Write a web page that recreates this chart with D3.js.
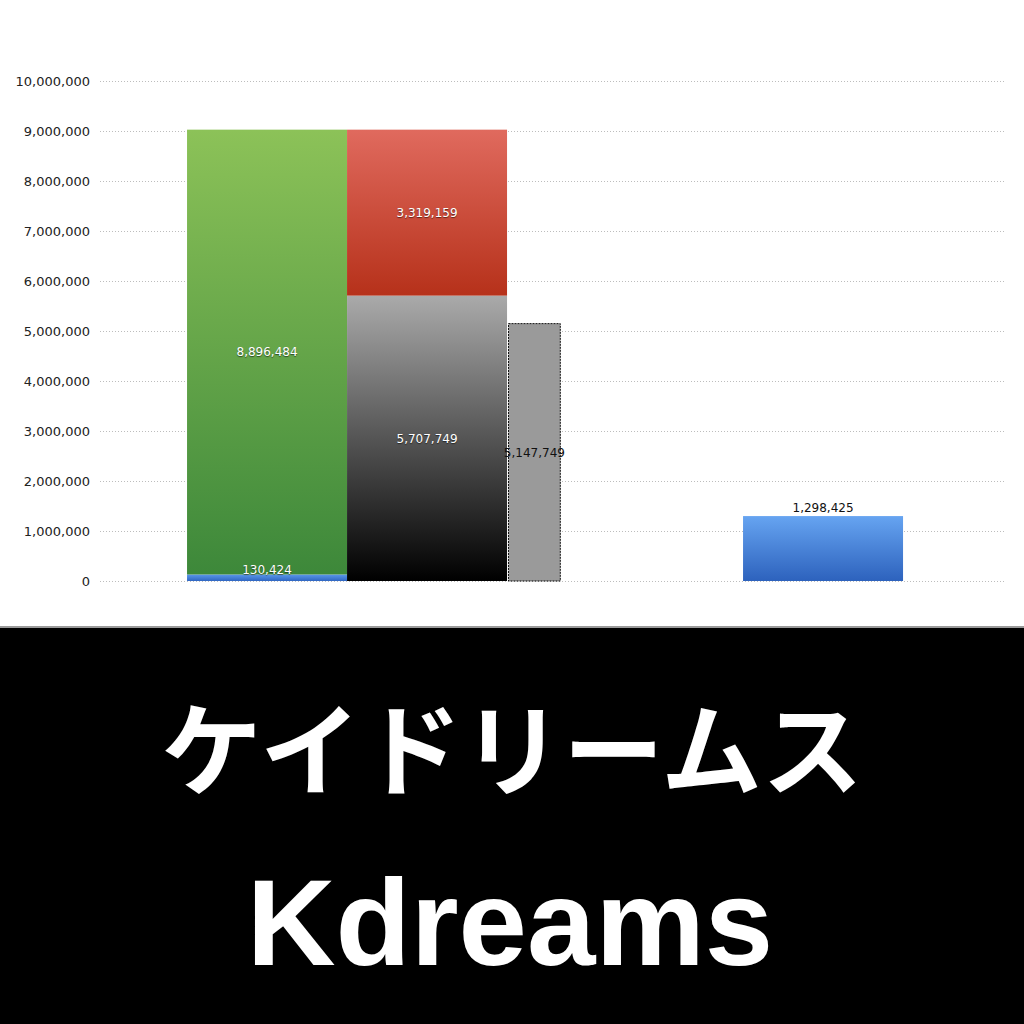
<!DOCTYPE html>
<html><head><meta charset="utf-8">
<script src="https://cdn.jsdelivr.net/npm/d3@7"></script>
<style>
html,body{margin:0;padding:0;background:#fff;}
svg{display:block;}
.lbl-w{text-shadow:0 1px 1px rgba(0,0,0,0.55);}
</style></head>
<body>
<svg id="chart" width="1024" height="1024"></svg>
<script>
// ---- data ----
const yTicks = [0,1000000,2000000,3000000,4000000,5000000,6000000,7000000,8000000,9000000,10000000];
const seriesNames = ["blueBase","green","black","red","greyDashed","blueRight"];
const seriesValues = [130424, 8896484, 5707749, 3319159, 5147749, 1298425];
const seriesLabels = ["130,424","8,896,484","5,707,749","3,319,159","5,147,749","1,298,425"];
const titleJa = "ケイドリームス";
const titleEn = "Kdreams";

// ---- layout ----
const svg = d3.select("#chart");
const plot = {left:100, right:1005, top:81, bottom:581};
const y = d3.scaleLinear().domain([0,10000000]).range([plot.bottom, plot.top]);
// horizontal slot scale (bar-width units)
const x = d3.scaleLinear().domain([0, 905/160]).range([plot.left, plot.right]);

const defs = svg.append("defs");
function grad(id, top, bottom){
  const g = defs.append("linearGradient").attr("id",id).attr("x1",0).attr("y1",0).attr("x2",0).attr("y2",1);
  g.append("stop").attr("offset","0%").attr("stop-color",top);
  g.append("stop").attr("offset","100%").attr("stop-color",bottom);
}
grad("gGreen","#8cc258","#3d883a");
grad("gRed","#e06a5e","#b6311a");
grad("gBlack","#aaaaaa","#000000");
grad("gBlue","#66a4f1","#2d62bd");
grad("gBlueBase","#5a98ea","#2f66c2");

// grid
svg.append("g").selectAll("line").data(yTicks).join("line")
  .attr("x1",plot.left).attr("x2",plot.right)
  .attr("y1",d=>Math.round(y(d))+0.5).attr("y2",d=>Math.round(y(d))+0.5)
  .attr("stroke","#bdbdbd").attr("stroke-width",1).attr("stroke-dasharray","1,2");

// y axis labels
const fmt = d3.format(",");
svg.append("g").selectAll("text").data(yTicks).join("text")
  .attr("x",90).attr("y",d=>y(d)).attr("dy","0.35em")
  .attr("text-anchor","end").attr("font-family","DejaVu Sans").attr("font-size",13)
  .attr("fill","#222").text(d=>fmt(d));

// bar geometry (slot start, slot width, base series index or value)
const V = Object.fromEntries(seriesNames.map((n,i)=>[n,seriesValues[i]]));
const bars = [
  {k:"blueBase", x0:0.544, w:1, base:0, fill:"url(#gBlueBase)", lc:"#fff"},
  {k:"green", x0:0.544, w:1, base:V.blueBase, fill:"url(#gGreen)", lc:"#fff"},
  {k:"black", x0:1.544, w:1, base:0, fill:"url(#gBlack)", lc:"#fff"},
  {k:"red", x0:1.544, w:1, base:V.black, fill:"url(#gRed)", lc:"#fff"},
  {k:"greyDashed", x0:2.55, w:0.33, base:0, fill:"#9a9a9a", lc:"#111", dashed:true},
  {k:"blueRight", x0:4.019, w:1, base:0, fill:"url(#gBlue)", lc:"#111", above:true}
];
bars.forEach(b=>{ b.v = V[b.k]; b.label = seriesLabels[seriesNames.indexOf(b.k)]; });

const gb = svg.append("g");
gb.selectAll("rect").data(bars).join("rect")
  .attr("x",d=>x(d.x0)+(d.dashed?0.5:0))
  .attr("width",d=>x(d.x0+d.w)-x(d.x0)-(d.dashed?1:0))
  .attr("y",d=>y(d.base+d.v))
  .attr("height",d=>y(d.base)-y(d.base+d.v))
  .attr("fill",d=>d.fill)
  .attr("stroke",d=>d.dashed?"#111":"none")
  .attr("stroke-width",1)
  .attr("stroke-dasharray",d=>d.dashed?"2,1":null);

svg.append("g").selectAll("text").data(bars).join("text")
  .attr("class",d=>d.lc==="#fff"?"lbl-w":null)
  .attr("x",d=>(x(d.x0)+x(d.x0+d.w))/2)
  .attr("y",d=>d.above ? y(d.base+d.v)-4 : (d.k==="blueBase" ? y(d.base+d.v)-2 : (y(d.base)+y(d.base+d.v))/2))
  .attr("dy",d=>d.above?"0":(d.k==="blueBase"?"0.1em":"0.35em"))
  .attr("text-anchor","middle").attr("font-family","DejaVu Sans").attr("font-size",12)
  .attr("fill",d=>d.lc).text(d=>d.label);

// bottom banner
svg.append("rect").attr("x",0).attr("y",626).attr("width",1024).attr("height",2).attr("fill","#9a9a9a");
svg.append("rect").attr("x",0).attr("y",628).attr("width",1024).attr("height",396).attr("fill","#000");
svg.append("text").attr("x",512).attr("y",752).attr("dy","0.36em")
  .attr("text-anchor","middle").attr("font-family","Noto Sans CJK JP").attr("font-weight",700)
  .attr("font-size",101).attr("fill","#fff").text(titleJa);
svg.append("text").attr("x",510).attr("y",965)
  .attr("text-anchor","middle").attr("font-family","Liberation Sans").attr("font-weight",700)
  .attr("font-size",123).attr("fill","#fff").text(titleEn);
</script>
</body></html>
